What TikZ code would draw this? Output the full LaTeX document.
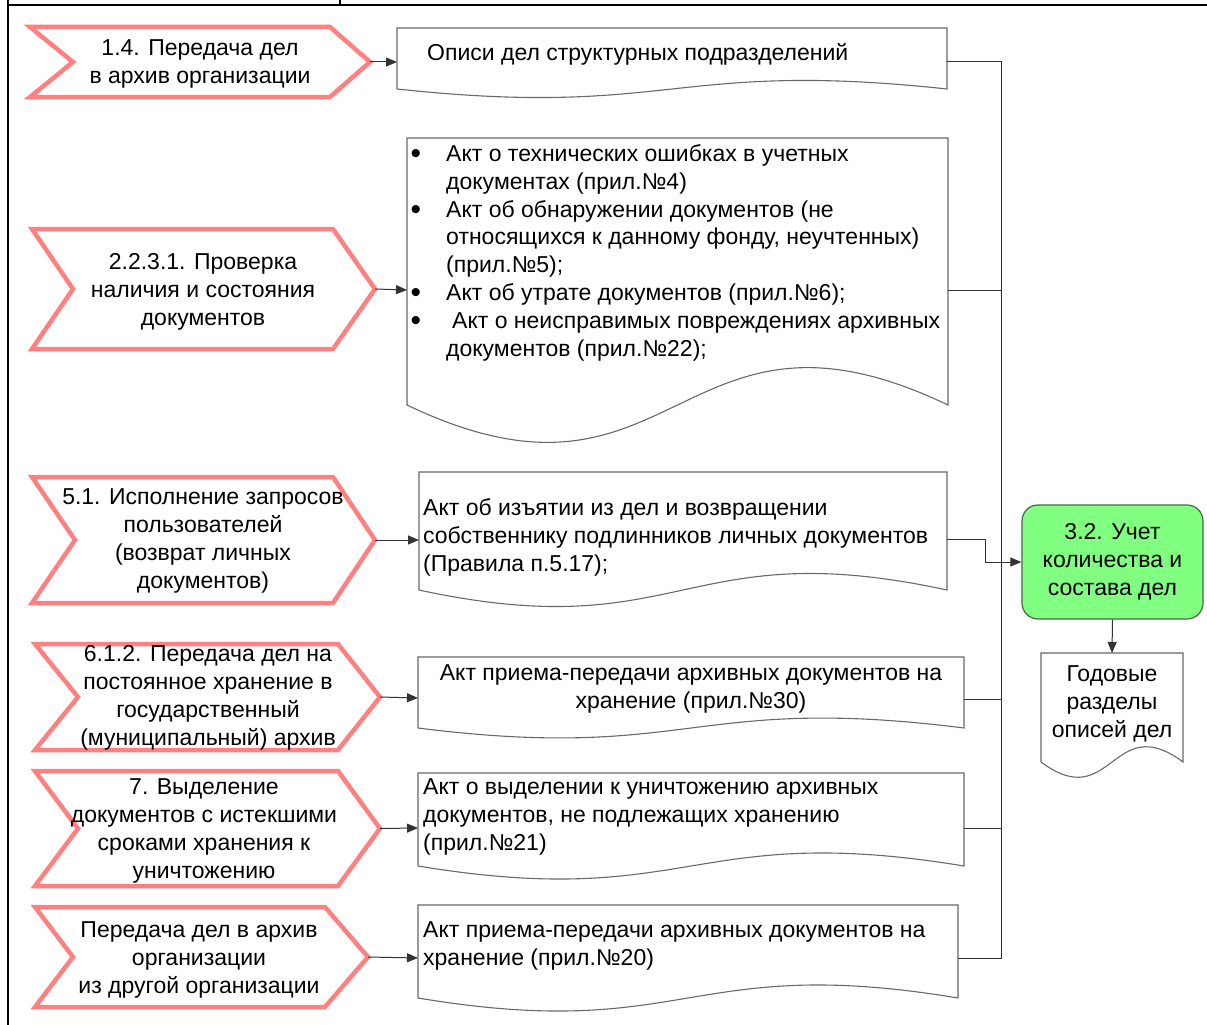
\documentclass[tikz,border=0pt]{standalone}
\usepackage{fontspec}
\setmainfont{Liberation Sans}
\usetikzlibrary{arrows.meta}

% chevron-shaped process step: name, left, top, bottom, notch x, corner x, tip x
\newcommand{\chevshape}[7]{%
  \draw[chev] (#2,#3) -- (#6,#3) -- (#7,{(#3+#4)/2}) -- (#6,#4) -- (#2,#4) -- (#5,{(#3+#4)/2}) -- cycle;
  \coordinate (#1) at (#7,{(#3+#4)/2});}

% document shape with a wavy lower edge: left, top, right, bottom
\newcommand{\docshape}[4]{%
  \draw[docline] (#1,#4) -- (#1,#2) -- (#3,#2) -- (#3,#4)
    .. controls ({(#1+#3)/2},{#4-0.485*(#4-#2)}) and ({(#1+#3)/2},{#4+0.485*(#4-#2)}) .. (#1,#4) -- cycle;}

% list bullet hanging to the left of the item text
\newcommand{\itembullet}{\llap{\raisebox{-2.5pt}{\scalebox{1.3}{\textbullet}}\hspace{25pt}}}

\begin{document}
\begin{tikzpicture}[x=1pt,y=-1pt,
  every node/.style={font=\fontsize{23}{27.8}\selectfont, inner sep=0pt},
  chev/.style={draw={rgb,255:red,255;green,128;blue,128}, line width=4.5pt, fill=white},
  docline/.style={draw={rgb,255:red,105;green,105;blue,105}, line width=1.1pt, fill=white},
  conn/.style={draw=black!80, line width=1pt},
  arr/.style={conn, -{Triangle[length=11pt,width=9pt]}},
  % multi-line labels are placed by the baseline of their last line
  lbl/.style={align=center, anchor=base},
  ltxt/.style={align=left, anchor=base west},
  accbox/.style={draw={rgb,255:red,70;green,105;blue,70}, line width=1.2pt,
    fill={rgb,255:red,128;green,255;blue,128}, rounded corners=16pt,
    minimum width=181pt, minimum height=114pt, align=center},
]
\useasboundingbox (0,0) rectangle (1207,1025);

% table frame
\draw[line width=2.5pt] (8,0) -- (8,1025);
\draw[line width=2.5pt] (8,5) -- (1207,5);
\draw[line width=1.5pt] (340,0) -- (340,5);

% process steps
\chevshape{c1}{30}{27}{97}{73}{330}{370}
\chevshape{c2}{32}{229}{349}{73}{333}{375}
\chevshape{c3}{32}{477}{603}{75}{333}{375}
\chevshape{c4}{35}{644}{750}{78}{338}{380}
\chevshape{c5}{35}{771}{886}{78}{338}{380}
\chevshape{c6}{35}{907}{1007}{73}{325}{368}

\node[lbl] (s1) at (200,83) {1.4. Передача дел\\в архив организации};
\node[lbl] (s2) at (203,325) {2.2.3.1. Проверка\\наличия и состояния\\документов};
\node[lbl] (s3) at (203,588) {5.1. Исполнение запросов\\пользователей\\(возврат личных\\документов)};
\node[lbl] (s4) at (208,745) {6.1.2. Передача дел на\\постоянное хранение в\\государственный\\(муниципальный) архив};
\node[lbl] (s5) at (204,878) {7. Выделение\\документов с истекшими\\сроками хранения к\\уничтожению};
\node[lbl] (s6) at (199,993) {Передача дел в архив\\организации\\из другой организации};

% documents
\docshape{397}{28}{947}{89}
\docshape{407}{138}{948}{405}
\docshape{419}{472}{947}{590}
\docshape{418}{657}{964}{728}
\docshape{418}{773}{964}{866}
\docshape{418}{905}{958}{998}
\docshape{1041}{653}{1183}{762}

\node[ltxt] (a1) at (427,61) {Описи дел структурных подразделений};
\node[ltxt] (a2) at (446,356) {\itembullet Акт о технических ошибках в учетных\\
документах (прил.№4)\\
\itembullet Акт об обнаружении документов (не\\
относящихся к данному фонду, неучтенных)\\
(прил.№5);\\
\itembullet Акт об утрате документов (прил.№6);\\
\itembullet\hspace{6pt}Акт о неисправимых повреждениях архивных\\
документов (прил.№22);};
\node[ltxt] (a3) at (423,571) {Акт об изъятии из дел и возвращении\\собственнику подлинников личных документов\\(Правила п.5.17);};
\node[lbl] (a4) at (691,708) {Акт приема-передачи архивных документов на\\хранение (прил.№30)};
\node[ltxt] (a5) at (423,850) {Акт о выделении к уничтожению архивных\\документов, не подлежащих хранению\\(прил.№21)};
\node[ltxt] (a6) at (423,965) {Акт приема-передачи архивных документов на\\хранение (прил.№20)};
\node[lbl] (a7) at (1112,737) {Годовые\\разделы\\описей дел};

% accounting step
\node[accbox] (acc) at (1112.5,562) {3.2. Учет\\количества и\\состава дел};

% connector end points on the documents
\coordinate (d1in) at (397,62);   \coordinate (d1out) at (947,62);
\coordinate (d2in) at (407,290);  \coordinate (d2out) at (948,290);
\coordinate (d3in) at (419,540);  \coordinate (d3out) at (947,539);
\coordinate (d4in) at (418,698);  \coordinate (d4out) at (964,699);
\coordinate (d5in) at (418,828);  \coordinate (d5out) at (964,828);
\coordinate (d6in) at (418,958);  \coordinate (d6out) at (958,958);
\coordinate (d7in) at (1112,653);
\coordinate (bus1) at (1001,62);  \coordinate (bus6) at (1001,958);
\coordinate (jog) at (985,539);

% step -> document
\draw[arr] (c1) -- (d1in);
\draw[arr] (c2) -- (d2in);
\draw[arr] (c3) -- (d3in);
\draw[arr] (c4) -- (d4in);
\draw[arr] (c5) -- (d5in);
\draw[arr] (c6) -- (d6in);

% documents -> collecting line
\draw[conn] (d1out) -- (bus1) -- (bus6) -- (d6out);
\draw[conn] (d2out) -- (d2out -| bus1);
\draw[conn] (d4out) -- (d4out -| bus1);
\draw[conn] (d5out) -- (d5out -| bus1);
\draw[arr] (d3out) -- (jog) |- (acc.west);
\draw[arr] (acc.south) -- (d7in);
\end{tikzpicture}
\end{document}
